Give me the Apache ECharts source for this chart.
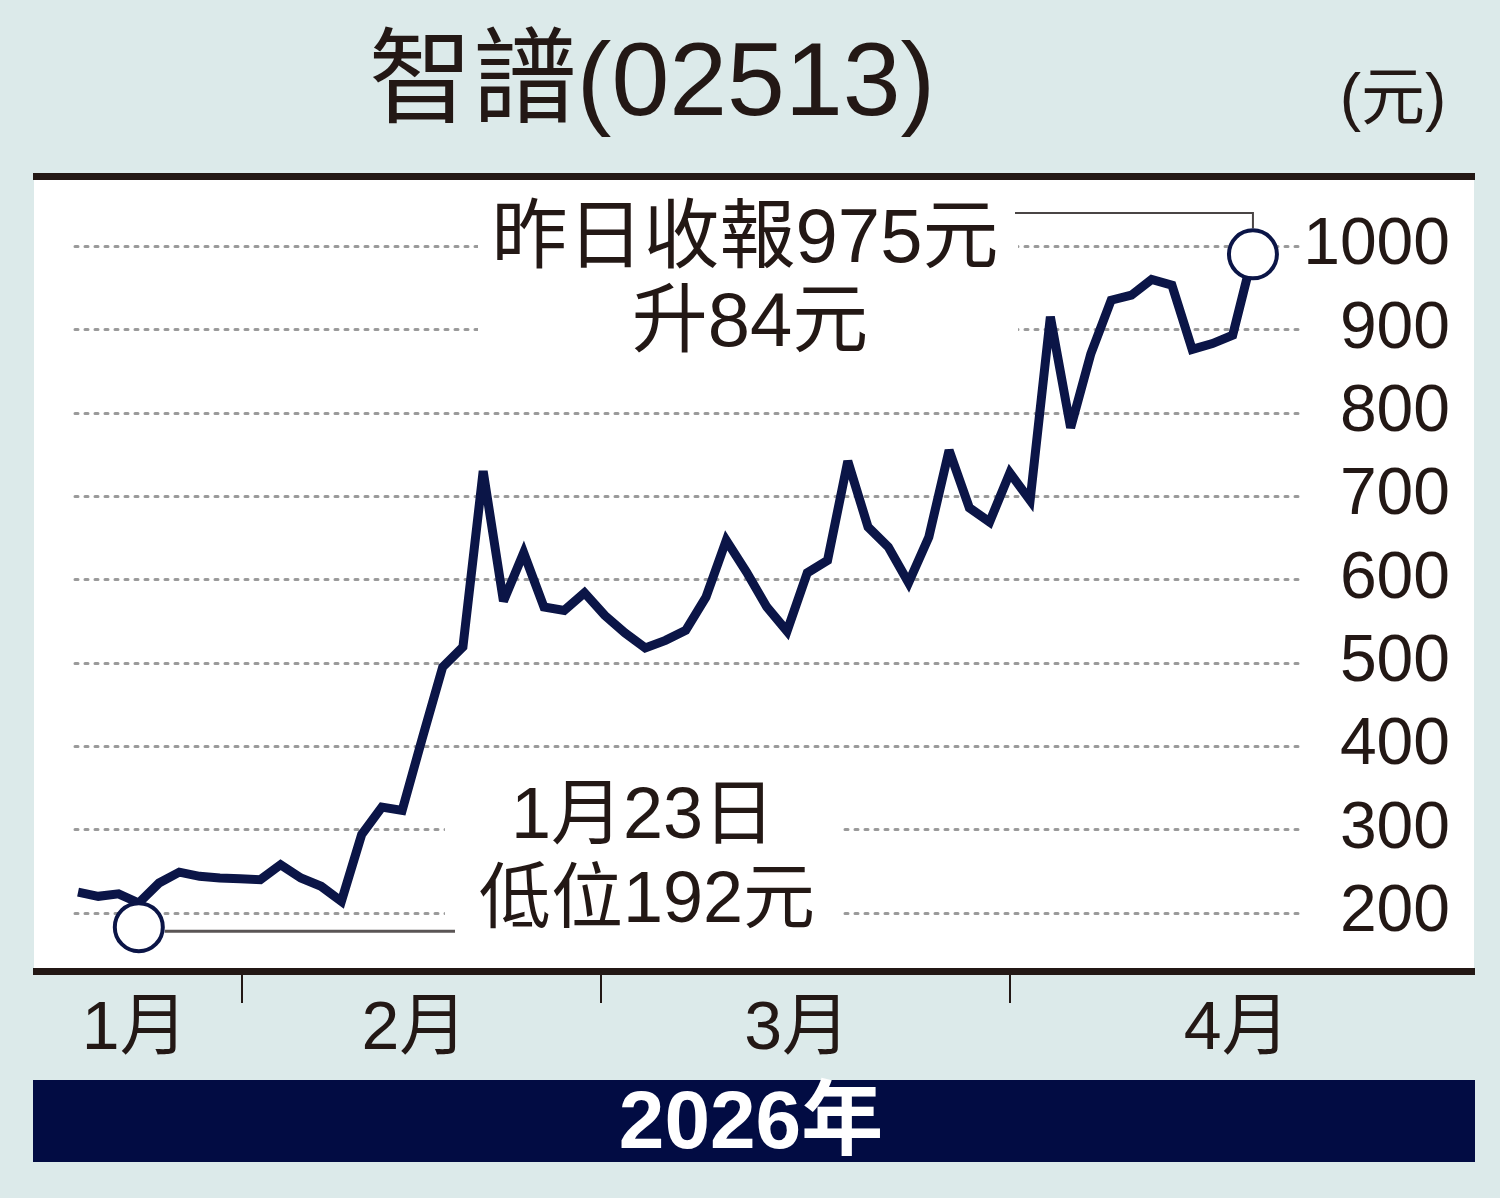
<!DOCTYPE html>
<html>
<head>
<meta charset="utf-8">
<script src="https://cdn.jsdelivr.net/npm/echarts@6/dist/echarts.min.js"></script>
<style>
  html, body { margin: 0; padding: 0; background: #dceaea; }
  #chart { width: 1500px; height: 1198px; }
</style>
</head>
<body>
<div id="chart"></div>
<script>
// daily closes, one per trading day
const closes = [
  225, 220, 223, 212, 236, 249, 244, 242, 241, 240,
  258, 242, 232, 214, 294, 327, 323, 410, 495, 519,
  730, 574, 632, 567, 563, 584, 557, 536, 518, 527,
  539, 579, 647, 609, 567, 538, 608, 623, 742, 663,
  639, 596, 651, 755, 686, 669, 728, 695, 915, 782,
  871, 935, 941, 960, 953, 876, 883, 893, 990
]
const lowMark = [3, 183]          // 1月23日 intraday low circle
const lastMark = [closes.length - 1, closes[closes.length - 1]]

const monthLabels = ['1月', '2月', '3月', '4月']
const monthLabelAt = [2.8, 16.6, 35.5, 57.2]   // label centres, in trading days
const monthEdgeAt = [8.1, 25.8, 46]            // ticks between months

const yMin = 200
const yMax = 1000
const yStep = 100

const ink = '#231815'
const navy = '#0b1547'
const latin = "'Liberation Sans', 'Noto Sans CJK TC', sans-serif"

const chartDom = document.getElementById('chart')
const myChart = echarts.init(chartDom, null, { renderer: 'canvas' })

const option = {
    backgroundColor: '#dceaea',
    animation: false,
    grid: {
        left: 75,
        right: 195,
        top: 246,
        bottom: 285,
        outerBoundsMode: 'none'
    },
    xAxis: {
        type: 'value',
        min: -0.15,
        max: 60.57,
        offset: 55,
        axisLine: { show: false },
        splitLine: { show: false },
        axisTick: {
            show: true,
            customValues: monthEdgeAt,
            length: 35,
            lineStyle: { color: ink, width: 2 }
        },
        axisLabel: {
            customValues: monthLabelAt,
            margin: 28,
            fontSize: 68,
            fontFamily: latin,
            color: ink,
            formatter: (val) => {
                let best = 0
                monthLabelAt.forEach((p, i) => {
                    if (Math.abs(p - val) < Math.abs(monthLabelAt[best] - val)) best = i
                })
                return monthLabels[best]
            }
        }
    },
    yAxis: {
        type: 'value',
        position: 'right',
        min: yMin,
        max: yMax,
        interval: yStep,
        axisLine: { show: false },
        axisTick: { show: false },
        axisLabel: {
            align: 'right',
            margin: 145,
            fontSize: 66,
            fontFamily: latin,
            color: ink,
            formatter: (v) => String(v)
        },
        splitLine: {
            show: true,
            lineStyle: { color: '#9a9a9a', width: 3, type: [3, 7], cap: 'round' }
        }
    },
    series: [
        {
            type: 'line',
            data: closes.map((v, i) => [i, v]),
            showSymbol: false,
            z: 3,
            lineStyle: { color: navy, width: 9, join: 'miter', miterLimit: 3 }
        },
        {
            type: 'scatter',
            data: [lowMark, lastMark],
            clip: false,
            z: 4,
            symbol: 'circle',
            symbolSize: 48,
            itemStyle: { color: '#ffffff', borderColor: navy, borderWidth: 4, opacity: 1 }
        }
    ],
    graphic: [
        // white plot panel and the two heavy rules
        { id: 'panel', type: 'rect', z: -10, shape: { x: 34, y: 180, width: 1440, height: 788 }, style: { fill: '#ffffff' } },
        { id: 'ruleTop', type: 'rect', z: 10, shape: { x: 33, y: 173, width: 1442, height: 7 }, style: { fill: ink } },
        { id: 'ruleBottom', type: 'rect', z: 10, shape: { x: 33, y: 968, width: 1442, height: 7 }, style: { fill: ink } },
        // blank out gridlines behind the notes
        { id: 'maskTop', type: 'rect', z: 1, shape: { x: 478, y: 200, width: 540, height: 160 }, style: { fill: '#ffffff' } },
        { id: 'maskLow', type: 'rect', z: 1, shape: { x: 445, y: 780, width: 395, height: 165 }, style: { fill: '#ffffff' } },
        // titles
        {
            id: 'title', type: 'text', z: 10, x: 652, y: 86,
            style: { text: '智譜(02513)', fontSize: 104, fontFamily: latin, fill: ink, textAlign: 'center', textVerticalAlign: 'middle' }
        },
        {
            id: 'unit', type: 'text', z: 10, x: 1393, y: 101,
            style: { text: '(元)', fontSize: 64, fontFamily: latin, fill: ink, textAlign: 'center', textVerticalAlign: 'middle' }
        },
        // notes
        {
            id: 'noteTop1', type: 'text', z: 5, x: 745, y: 241,
            style: { text: '昨日收報975元', fontSize: 76, fontFamily: latin, fill: ink, textAlign: 'center', textVerticalAlign: 'middle' }
        },
        {
            id: 'noteTop2', type: 'text', z: 5, x: 750, y: 325,
            style: { text: '升84元', fontSize: 76, fontFamily: latin, fill: ink, textAlign: 'center', textVerticalAlign: 'middle' }
        },
        {
            id: 'noteLow1', type: 'text', z: 5, x: 643, y: 818,
            style: { text: '1月23日', fontSize: 72, fontFamily: latin, fill: ink, textAlign: 'center', textVerticalAlign: 'middle' }
        },
        {
            id: 'noteLow2', type: 'text', z: 5, x: 647, y: 902,
            style: { text: '低位192元', fontSize: 72, fontFamily: latin, fill: ink, textAlign: 'center', textVerticalAlign: 'middle' }
        },
        // year banner
        { id: 'banner', type: 'rect', z: 10, shape: { x: 33, y: 1080, width: 1442, height: 82 }, style: { fill: '#020c43' } },
        {
            id: 'year', type: 'text', z: 11, x: 751, y: 1125,
            style: { text: '2026年', fontSize: 82, fontWeight: 'bold', fontFamily: latin, fill: '#ffffff', textAlign: 'center', textVerticalAlign: 'middle' }
        }
    ]
}
myChart.setOption(option)

// leader lines from the notes to the two circles
const r = 26
const pLast = myChart.convertToPixel({ gridIndex: 0 }, lastMark)
const pLow = myChart.convertToPixel({ gridIndex: 0 }, lowMark)
myChart.setOption({
    graphic: [
        {
            id: 'leadTop', type: 'polyline', z: 3,
            shape: { points: [[1015, 213], [pLast[0], 213], [pLast[0], pLast[1] - r]] },
            style: { stroke: '#4a4545', lineWidth: 2, fill: null }
        },
        {
            id: 'leadLow', type: 'polyline', z: 3,
            shape: { points: [[pLow[0] + r, pLow[1] + 4], [455, pLow[1] + 4]] },
            style: { stroke: '#5a5555', lineWidth: 3, fill: null }
        }
    ]
})
</script>
</body>
</html>
